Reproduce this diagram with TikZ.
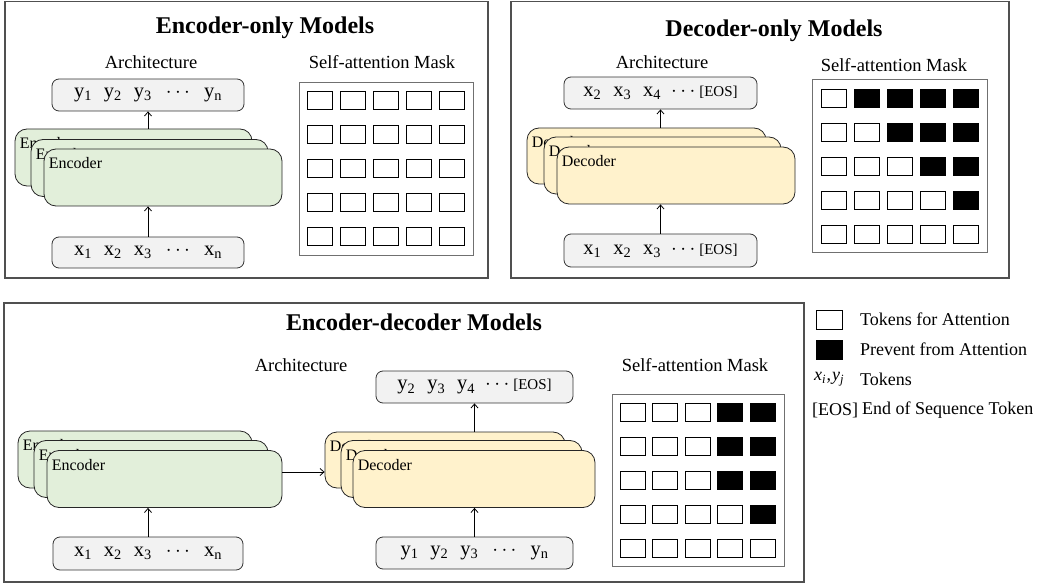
\documentclass[tikz,border=0pt]{standalone}
\usepackage{fontspec}
\setmainfont{Liberation Serif}
\usetikzlibrary{arrows.meta}
\definecolor{encg}{HTML}{E2EFDA}
\definecolor{decy}{HTML}{FFF2CC}
\definecolor{tokg}{HTML}{F2F2F2}
\definecolor{pan}{HTML}{505050}
\definecolor{mgray}{HTML}{707070}
\newcommand{\tk}[2]{#1\textsubscript{#2}}
\newcommand{\tgap}{\hspace{12pt}}
\newcommand{\eostxt}{{\fontsize{15}{18}\selectfont[EOS]}}
\begin{document}
\begin{tikzpicture}[x=1pt,y=-1pt,
  panel/.style={draw=pan, line width=1.3pt, inner sep=0},
  titletxt/.style={font=\fontsize{24}{28}\selectfont\bfseries, inner sep=0},
  subtxt/.style={font=\fontsize{18.5}{22}\selectfont, inner sep=0},
  tok/.style={draw=black!80, fill=tokg, rounded corners=7pt, line width=0.8pt, minimum height=32pt, inner sep=0, font=\fontsize{20.5}{24}\selectfont},
  layer/.style={draw=black!85, rounded corners=12pt, line width=0.8pt, minimum width=237pt, minimum height=57pt, inner sep=0},
  lbl/.style={anchor=north west, font=\fontsize{16}{18}\selectfont, inner sep=0, xshift=5pt, yshift=-9pt},
  enc/.style={layer, fill=encg, label={[lbl]north west:Encoder}},
  dec/.style={layer, fill=decy, label={[lbl]north west:Decoder}},
  arr/.style={-{Straight Barb[length=4pt,width=7pt]}, line width=0.8pt},
  mask/.style={draw=mgray, line width=1pt, inner sep=0, minimum width=174pt, minimum height=172pt},
  cellw/.style={draw=black, line width=1pt, fill=white, minimum width=25pt, minimum height=18pt, inner sep=0},
  cellb/.style={cellw, fill=black},
  legtxt/.style={font=\fontsize{18}{21}\selectfont, inner sep=0, anchor=west}
]
\useasboundingbox (0,0) rectangle (1059,585);

% ---------------- Panel 1: Encoder-only ----------------
\node[panel, minimum width=483pt, minimum height=276.5pt] (p1) at (246.5,139.75) {};
\node[titletxt] (t1) at (265,28) {Encoder-only Models};
\node[subtxt] (a1) at (151,62) {Architecture};
\node[subtxt] (s1) at (382,62) {Self-attention Mask};
\node[tok, minimum width=192pt] (out1) at (148,95) {\tk{y}{1}\tgap\tk{y}{2}\tgap\tk{y}{3}\hspace{14pt}$\cdots$\hspace{14pt}\tk{y}{n}};
\node[enc] (e1a) at (133.5,157.5) {};
\node[enc] (e1b) at (149.5,168) {};
\node[enc, minimum width=238pt] (e1c) at (163,177.5) {};
\node[tok, minimum width=192pt, minimum height=31pt] (in1) at (148,252.5) {\tk{x}{1}\tgap\tk{x}{2}\tgap\tk{x}{3}\hspace{14pt}$\cdots$\hspace{14pt}\tk{x}{n}};
\draw[arr] (in1.north) -- (in1.north |- e1c.south);
\draw[arr] (out1.south |- e1a.north) -- (out1.south);
\node[mask] (m1) at (386,169) {};
\foreach \r in {1,...,5} {
  \foreach \c in {1,...,5} {
    \node[cellw] (m1-\r-\c) at ({319.5+33*(\c-1)},{101+34*(\r-1)}) {};
  }
}

% ---------------- Panel 2: Decoder-only ----------------
\node[panel, minimum width=498pt, minimum height=276.5pt] (p2) at (760,139.75) {};
\node[titletxt] (t2) at (774,31) {Decoder-only Models};
\node[subtxt] (a2) at (662,62) {Architecture};
\node[subtxt] (s2) at (894,65) {Self-attention Mask};
\node[tok, minimum width=193pt] (out2) at (660.5,93) {\tk{x}{2}\tgap\tk{x}{3}\tgap\tk{x}{4}\hspace{10pt}$\cdots$\hspace{4pt}\eostxt};
\node[dec, minimum width=239pt, minimum height=56pt] (d2a) at (646.5,156) {};
\node[dec] (d2b) at (662.5,165.5) {};
\node[dec, minimum width=238pt] (d2c) at (676,175.5) {};
\node[tok, minimum width=193pt, minimum height=33pt] (in2) at (660.5,250.5) {\tk{x}{1}\tgap\tk{x}{2}\tgap\tk{x}{3}\hspace{10pt}$\cdots$\hspace{4pt}\eostxt};
\draw[arr] (in2.north) -- (in2.north |- d2c.south);
\draw[arr] (out2.south |- d2a.north) -- (out2.south);
\node[mask, minimum width=175pt] (m2) at (899.5,166) {};
\foreach \r in {1,...,5} {
  \foreach \c in {1,...,5} {
    \ifnum\c>\r
      \node[cellb] (m2-\r-\c) at ({833.5+33*(\c-1)},{99+34*(\r-1)}) {};
    \else
      \node[cellw] (m2-\r-\c) at ({833.5+33*(\c-1)},{99+34*(\r-1)}) {};
    \fi
  }
}

% ---------------- Panel 3: Encoder-decoder ----------------
\node[panel, minimum width=800pt, minimum height=279pt] (p3) at (404,442.5) {};
\node[titletxt] (t3) at (414,322) {Encoder-decoder Models};
\node[subtxt] (a3) at (301,365) {Architecture};
\node[subtxt] (s3) at (695,365) {Self-attention Mask};
\node[enc, minimum width=234pt] (e3a) at (135,459.5) {};
\node[enc, minimum width=234pt] (e3b) at (151,469) {};
\node[enc, minimum width=235pt] (e3c) at (164.5,479) {};
\node[tok, minimum width=190pt, minimum height=33pt] (in3e) at (148,553.5) {\tk{x}{1}\tgap\tk{x}{2}\tgap\tk{x}{3}\hspace{14pt}$\cdots$\hspace{14pt}\tk{x}{n}};
\draw[arr] (in3e.north) -- (in3e.north |- e3c.south);
\node[dec, minimum width=240pt, minimum height=56pt] (d3a) at (445,460) {};
\node[dec, minimum width=241pt] (d3b) at (461.5,469) {};
\node[dec, minimum width=242pt] (d3c) at (474,479) {};
\node[tok, minimum width=197pt] (out3) at (474.5,387) {\tk{y}{2}\tgap\tk{y}{3}\tgap\tk{y}{4}\hspace{10pt}$\cdots$\hspace{4pt}\eostxt};
\node[tok, minimum width=197pt] (in3d) at (474.5,553) {\tk{y}{1}\tgap\tk{y}{2}\tgap\tk{y}{3}\hspace{14pt}$\cdots$\hspace{14pt}\tk{y}{n}};
\draw[arr] (in3d.north) -- (in3d.north |- d3c.south);
\draw[arr] (out3.south |- d3a.north) -- (out3.south);
\coordinate (encmid) at (0,472);
\draw[arr] (e3c.east |- encmid) -- (d3a.west |- encmid);
\node[mask, minimum width=172pt] (m3) at (698,480) {};
\foreach \r in {1,...,5} {
  \foreach \c in {1,...,5} {
    \pgfmathtruncatemacro{\isb}{(\c>\r) && (\c>3) ? 1 : 0}
    \ifnum\isb=1
      \node[cellb] (m3-\r-\c) at ({632.5+32.6*(\c-1)},{412.5+34*(\r-1)}) {};
    \else
      \node[cellw] (m3-\r-\c) at ({632.5+32.6*(\c-1)},{412.5+34*(\r-1)}) {};
    \fi
  }
}

% ---------------- Legend ----------------
\node[cellw, minimum width=26pt, minimum height=19pt] (lw) at (829,319.5) {};
\node[cellb, minimum width=26pt, minimum height=19pt] (lb) at (829,349.5) {};
\node[legtxt] (lwt) at (860,319) {Tokens for Attention};
\node[legtxt] (lbt) at (860,349) {Prevent from Attention};
\node[legtxt] (lxy) at (814,379) {\textit{x}\textsubscript{\textit{i}}\kern0.5pt,\kern1pt\textit{y}\textsubscript{\textit{j}}};
\node[legtxt] (lxyt) at (860,379) {Tokens};
\node[legtxt] (leos) at (812,410) {[EOS]};
\node[legtxt] (leost) at (862,410) {End of Sequence Token};
\end{tikzpicture}
\end{document}
